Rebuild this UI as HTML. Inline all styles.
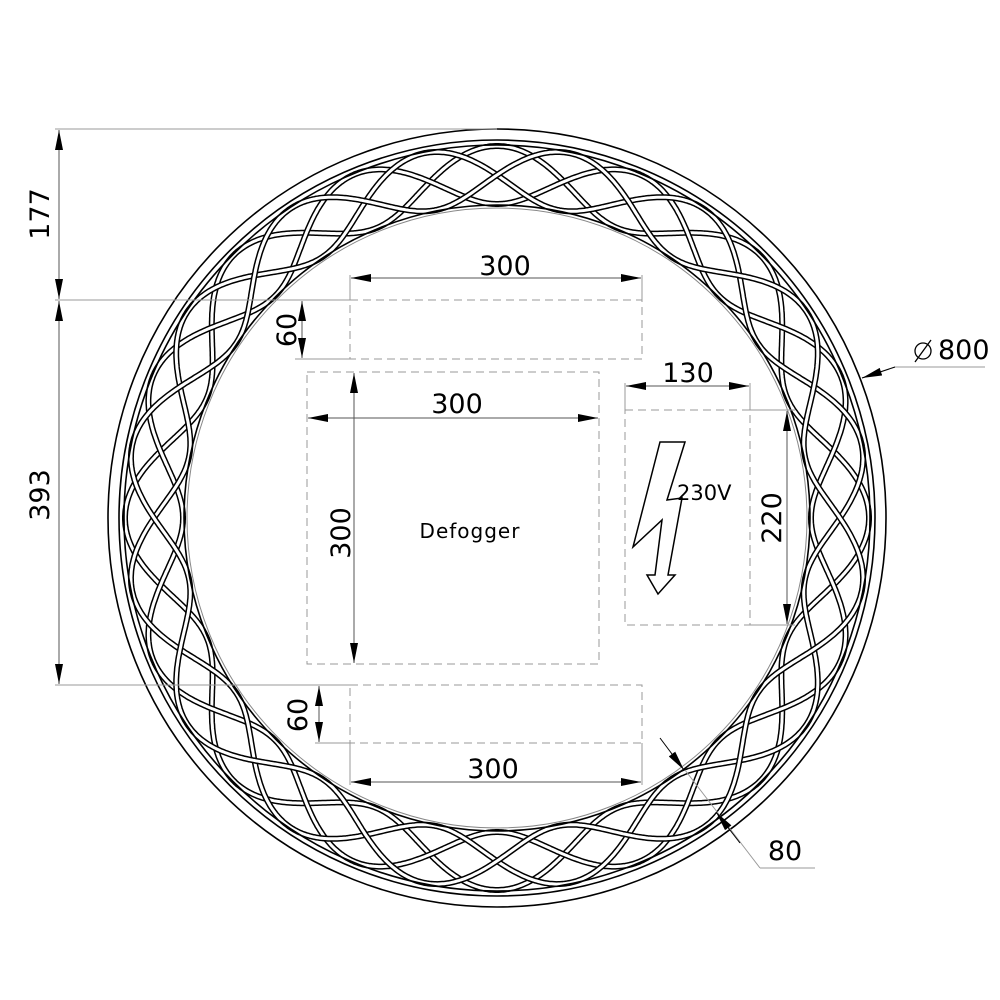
<!DOCTYPE html>
<html><head><style>body{margin:0;background:#fff}svg{display:block}text{font-family:"DejaVu Sans","Liberation Sans",sans-serif}</style></head>
<body>
<svg id="s" width="1000" height="1000" viewBox="0 0 1000 1000" xmlns="http://www.w3.org/2000/svg">
<defs><marker id="a" viewBox="0 0 20 8" refX="20" refY="4" markerWidth="20" markerHeight="8" markerUnits="userSpaceOnUse" orient="auto-start-reverse"><path d="M0,0 L20,4 L0,8z" fill="#000"/></marker></defs>
<g id="ring" fill="none" stroke="#000" stroke-width="1.6">
<circle cx="497" cy="518" r="389"/>
<circle cx="497" cy="518" r="378"/>
<circle cx="497" cy="518" r="310" stroke="#888" stroke-width="1"/>
</g>
<g id="strands"></g>
<g fill="none" stroke="#999" stroke-width="1">
<line x1="55" y1="129" x2="497" y2="129"/>
<line x1="55" y1="300" x2="350" y2="300"/>
<line x1="55" y1="685" x2="350" y2="685"/>
<line x1="295" y1="359" x2="350" y2="359"/>
<line x1="315" y1="743" x2="350" y2="743"/>
<line x1="350" y1="275" x2="350" y2="300"/>
<line x1="642" y1="275" x2="642" y2="300"/>
<line x1="350" y1="743" x2="350" y2="785"/>
<line x1="642" y1="743" x2="642" y2="785"/>
<line x1="625" y1="383" x2="625" y2="410"/>
<line x1="750" y1="383" x2="750" y2="410"/>
<line x1="750" y1="410" x2="795" y2="410"/>
<line x1="750" y1="625" x2="795" y2="625"/>
<line x1="862" y1="378" x2="895" y2="367"/><line x1="895" y1="367" x2="985" y2="367"/>
<line x1="685" y1="770" x2="760" y2="868"/><line x1="760" y1="868" x2="815" y2="868"/>
</g>
<g fill="none" stroke="#999" stroke-width="1" stroke-dasharray="8,5">
<rect x="350" y="300" width="292" height="59"/>
<rect x="307" y="372" width="292" height="292"/>
<rect x="625" y="410" width="125" height="215"/>
<rect x="350" y="685" width="292" height="58"/>
</g>
<g stroke="#555" stroke-width="1" marker-start="url(#a)" marker-end="url(#a)">
<line x1="59" y1="130" x2="59" y2="299"/>
<line x1="59" y1="301" x2="59" y2="684"/>
<line x1="302" y1="301" x2="302" y2="358"/>
<line x1="319" y1="686" x2="319" y2="742"/>
<line x1="351" y1="278" x2="641" y2="278"/>
<line x1="308" y1="418" x2="598" y2="418"/>
<line x1="354" y1="373" x2="354" y2="663"/>
<line x1="626" y1="386" x2="749" y2="386"/>
<line x1="787" y1="411" x2="787" y2="624"/>
<line x1="351" y1="782" x2="641" y2="782"/>
</g>
<line x1="895" y1="367" x2="862" y2="378" stroke="#000" marker-end="url(#a)"/>
<line x1="660" y1="738" x2="684" y2="770" stroke="#000" marker-end="url(#a)"/>
<line x1="740" y1="843" x2="716" y2="812" stroke="#000" marker-end="url(#a)"/>
<g font-size="27" fill="#000">
<text x="505" y="275" text-anchor="middle">300</text>
<text x="457" y="413" text-anchor="middle">300</text>
<text x="493" y="778" text-anchor="middle">300</text>
<text x="688" y="382" text-anchor="middle">130</text>
<text x="785" y="860" text-anchor="middle">80</text>
<text x="938" y="359">800</text>
<text transform="translate(49,214) rotate(-90)" text-anchor="middle">177</text>
<text transform="translate(49,495) rotate(-90)" text-anchor="middle">393</text>
<text transform="translate(296,330) rotate(-90)" text-anchor="middle">60</text>
<text transform="translate(307,715) rotate(-90)" text-anchor="middle">60</text>
<text transform="translate(350,533) rotate(-90)" text-anchor="middle">300</text>
<text transform="translate(781,518) rotate(-90)" text-anchor="middle">220</text>
</g>
<circle cx="923" cy="351" r="8" fill="none" stroke="#000" stroke-width="1.3"/><line x1="915" y1="362" x2="931" y2="340" stroke="#000" stroke-width="1.3"/>
<text x="470" y="538" font-size="20" font-family="Liberation Mono,monospace" text-anchor="middle" letter-spacing="1">Defogger</text>
<text x="677" y="500" font-size="21" font-family="Liberation Mono,monospace">230V</text>
<path d="M660,442 L685,442 L667,500 L682,498 L668,575 L675,575 L658,594 L647,575 L655,575 L662,520 L633,547 Z" fill="none" stroke="#000" stroke-width="1.5"/>
</svg>
<script>
var g=document.getElementById('strands'),cx=497,cy=518,N=8,h='';
var defs=[[0,343,29],[Math.PI,343,29],[Math.PI/2,343,29],[3*Math.PI/2,343,29]];
for(var k=0;k<defs.length;k++){var d='';for(var i=0;i<=1440;i++){var t=i/1440*2*Math.PI;var r=defs[k][1]+defs[k][2]*Math.sin(N*t+defs[k][0]+Math.PI/2);d+=(i?'L':'M')+(cx+r*Math.cos(t)).toFixed(1)+','+(cy+r*Math.sin(t)).toFixed(1);}
h+='<path d="'+d+'" fill="none" stroke="#000" stroke-width="6"/>';
h+='<path d="'+d+'" fill="none" stroke="#fff" stroke-width="3"/>';}
h+='<circle cx="497" cy="518" r="373" fill="none" stroke="#000" stroke-width="1.6"/><circle cx="497" cy="518" r="313" fill="none" stroke="#000" stroke-width="1.6"/>';
g.innerHTML=h;
</script>
</body></html>
